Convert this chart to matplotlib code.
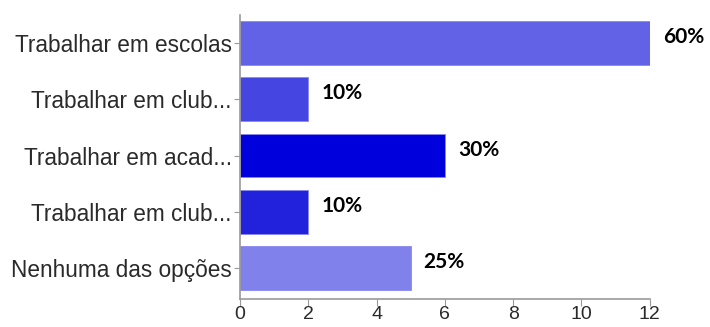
import numpy as np
from matplotlib import pyplot as plt

categorias = ['Trabalhar em escolas', 'Trabalhar em club...', 'Trabalhar em acad...',
              'Trabalhar em club...', 'Nenhuma das opções']
valores = [12, 2, 6, 2, 5]
rotulos = ['60%', '10%', '30%', '10%', '25%']
cores = ['#6262E6', '#4545E2', '#0000DC', '#2222DC', '#8181EC']

fig = plt.figure(figsize=(7.1, 3.27), dpi=100)
ax = fig.add_axes([0.338, 0.086, 0.577, 0.868])

y = np.arange(len(valores))
ax.barh(y, valores, height=0.78, color=cores, edgecolor='#8888f0', lw=0.6)

for yi, v, r in zip(y, valores, rotulos):
    ax.annotate(r, (v, yi), xytext=(13, 6), textcoords='offset pixels',
                va='center', ha='left', fontsize=15, fontweight='bold',
                family='Lato', color='black')

ax.set_yticks(y)
ax.set_yticklabels(categorias, family='Liberation Sans', fontsize=16.3, color='#2a2a2a')
ax.set_xticks(np.arange(0, 13, 2))
ax.set_xticklabels([str(t) for t in range(0, 13, 2)], family='Liberation Sans',
                   fontsize=14, color='#2a2a2a')
ax.set_xlim(0, 12)
ax.set_ylim(4.55, -0.5)

for s in ['top', 'right']:
    ax.spines[s].set_visible(False)
for s in ['left', 'bottom']:
    ax.spines[s].set_color('#999999')
    ax.spines[s].set_linewidth(1.2)
ax.tick_params(axis='y', length=4, color='#999999', pad=2)
ax.tick_params(axis='x', length=5, color='#999999', pad=0)

plt.savefig('out.png', dpi=100)
